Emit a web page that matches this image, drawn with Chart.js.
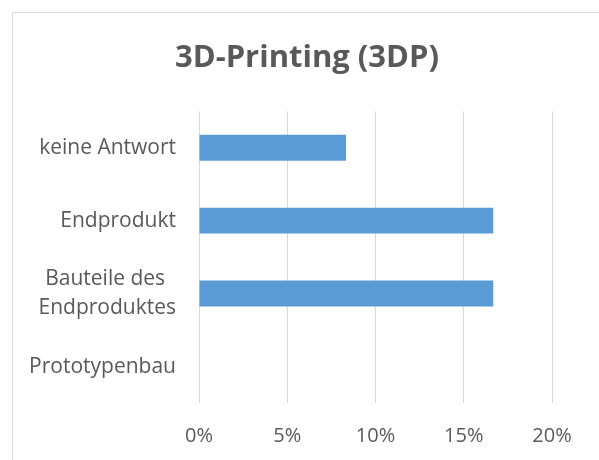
<!DOCTYPE html>
<html>
<head>
<meta charset="utf-8">
<script src="https://cdn.jsdelivr.net/npm/chart.js@4"></script>
<style>
  html, body { margin: 0; padding: 0; background: #fff; }
  #wrap { position: relative; width: 599px; height: 460px; overflow: hidden; }
  #frame { position: absolute; left: 12px; top: 12px; width: 700px; height: 600px;
           border-left: 1px solid #d9d9d9; border-top: 1px solid #d9d9d9; pointer-events: none; }
  canvas { position: absolute; left: 0; top: 0; }
</style>
</head>
<body>
<div id="wrap">
  <canvas id="chart" width="599" height="460"></canvas>
  <div id="frame"></div>
</div>
<script>
// categories from top to bottom
const categories = ["keine Antwort", "Endprodukt", ["Bauteile des  ", "Endproduktes"], "Prototypenbau"];
// share of answers in percent
const shares = [8.33, 16.67, 16.67, 0];
const tickValues = [0, 5, 10, 15, 20];

const textColor = '#595959';
const font = '"Open Sans", sans-serif';

// the title in the original sits centred on the whole frame, not the plot
const shiftTitle = {
    id: 'shiftTitle',
    afterLayout(chart) {
        const t = chart.titleBlock;
        if (t) { t.left = 62; t.right = 552; t.width = 490; }
    }
};

new Chart('chart', {
    type: 'bar',
    data: {
        labels: categories,
        datasets: [{
            label: '3DP',
            data: shares,
            backgroundColor: '#5b9bd5',
            borderWidth: 0,
            barPercentage: 0.356,
            categoryPercentage: 1
        }]
    },
    plugins: [shiftTitle],
    options: {
        indexAxis: 'y',
        responsive: false,
        animation: false,
        layout: { padding: { left: 0, right: 47, top: 0, bottom: 0 } },
        plugins: {
            legend: { display: false },
            tooltip: { enabled: false },
            title: {
                display: true,
                text: '3D-Printing (3DP)',
                color: textColor,
                font: { family: font, size: 31, weight: 'bold', lineHeight: 1.2 },
                padding: { top: 40, bottom: 34 }
            }
        },
        scales: {
            x: {
                min: 0,
                max: 20,
                afterBuildTicks: (axis) => { axis.ticks = tickValues.map(v => ({ value: v })); },
                afterFit: (axis) => { axis.height = 57; },
                grid: { color: '#d9d9d9', lineWidth: 1, drawTicks: false },
                border: { display: false },
                ticks: {
                    color: textColor,
                    font: { family: font, size: 20 },
                    padding: 21,
                    callback: (v) => v + '%'
                }
            },
            y: {
                afterFit: (axis) => { axis.width = 199; },
                grid: { display: false, drawTicks: false },
                border: { display: false },
                ticks: {
                    color: textColor,
                    font: { family: font, size: 21, lineHeight: 1.38 },
                    padding: 23
                }
            }
        }
    }
});
</script>
</body>
</html>
